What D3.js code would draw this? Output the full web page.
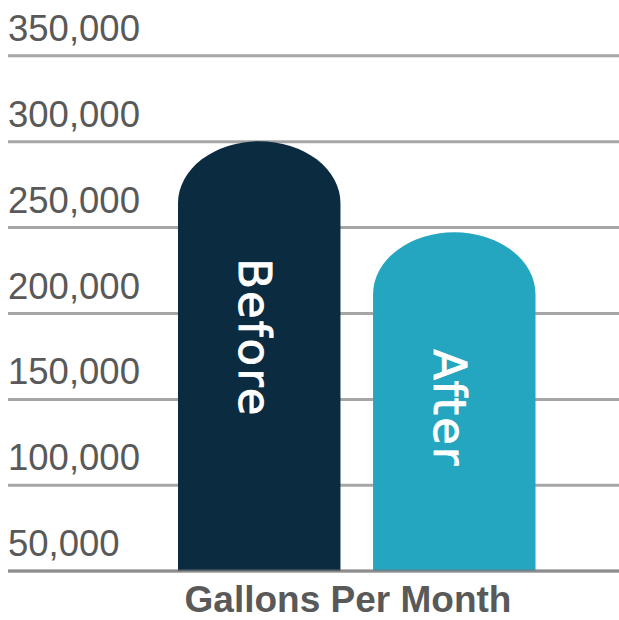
<!DOCTYPE html>
<html>
<head>
<meta charset="utf-8">
<script src="https://cdn.jsdelivr.net/npm/d3@7"></script>
<style>
  html, body { margin: 0; padding: 0; background: #fff; }
  svg { display: block; }
</style>
</head>
<body>
<div class="main-chart"></div>
<script>
// values
const categories = ["Before", "After"];
const gallons = [300000, 247000];
const tickValues = [50000, 100000, 150000, 200000, 250000, 300000, 350000];
const axisTitle = "Gallons Per Month";

const width = 619;
const height = 620;
const colors = ["#0b2b40", "#24a5c0"];

const svg = d3.select(".main-chart").append("svg")
    .attr("width", width)
    .attr("height", height);

const y = d3.scaleLinear()
    .domain([50000, 350000])
    .range([570.7, 55.3]);

const x = d3.scaleBand()
    .domain(categories)
    .range([178, 535.5])
    .paddingInner(0.167)
    .paddingOuter(0);

// grid lines with the labels sitting above them
const axis = svg.append("g")
    .attr("transform", "translate(8,0)")
    .call(d3.axisRight(y)
        .tickValues(tickValues)
        .tickSize(width)
        .tickFormat(d3.format(",")));

axis.select(".domain").remove();
axis.selectAll(".tick line")
    .attr("stroke", "#a6a6a6")
    .attr("stroke-width", 3);
axis.selectAll(".tick text")
    .attr("x", 0)
    .attr("dy", -15)
    .attr("text-anchor", "start")
    .attr("fill", "#595959")
    .style("font-family", "'Liberation Sans', Arial, sans-serif")
    .style("font-size", "36.5px");

// bars with a rounded (half ellipse) top
const ry = 62;
const barPath = (d, i) => {
    const x0 = x(categories[i]);
    const w = x.bandwidth();
    const top = y(d);
    const base = y(50000);
    return `M${x0},${base} L${x0},${top + ry} A${w / 2},${ry} 0 0 1 ${x0 + w},${top + ry} L${x0 + w},${base} Z`;
};

svg.append("g").selectAll("path")
    .data(gallons)
    .join("path")
    .attr("d", barPath)
    .attr("fill", (d, i) => colors[i]);

// baseline drawn over the bars
svg.append("line")
    .attr("x1", 8)
    .attr("x2", width)
    .attr("y1", y(50000))
    .attr("y2", y(50000))
    .attr("stroke", "#777")
    .attr("stroke-opacity", 0.55)
    .attr("stroke-width", 3);

// rotated labels inside the bars
svg.append("g").selectAll("text")
    .data(gallons)
    .join("text")
    .attr("transform", (d, i) => `translate(${x(categories[i]) + x.bandwidth() / 2 - 4},${y(d) + 117}) rotate(90)`)
    .attr("dy", "0.36em")
    .attr("fill", "#fff")
    .attr("stroke", "#fff")
    .attr("stroke-width", 0.9)
    .style("font-family", "'DejaVu Sans', sans-serif")
    .style("font-size", "45px")
    .style("letter-spacing", "2px")
    .text((d, i) => categories[i]);

svg.append("text")
    .attr("x", 348)
    .attr("y", 612)
    .attr("text-anchor", "middle")
    .attr("fill", "#595959")
    .style("font-family", "'Liberation Sans', Arial, sans-serif")
    .style("font-weight", "bold")
    .style("font-size", "37px")
    .text(axisTitle);
</script>
</body>
</html>
